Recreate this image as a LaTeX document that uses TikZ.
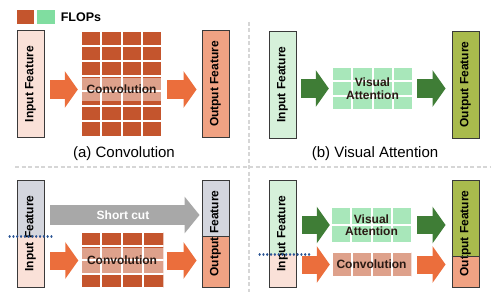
\documentclass[tikz,border=0pt]{standalone}
\usepackage{fontspec}
\setmainfont{Liberation Sans}
\usepackage{graphicx}
\usetikzlibrary{arrows.meta, positioning, calc}

\definecolor{convbrown}{HTML}{C4552D}
\definecolor{convorange}{HTML}{EB6E3C}
\definecolor{inpink}{HTML}{FAE1D8}
\definecolor{outsalmon}{HTML}{F0A283}
\definecolor{legmint}{HTML}{80DDA0}
\definecolor{attcell}{HTML}{A8E7BA}
\definecolor{attgreen}{HTML}{3F7D36}
\definecolor{ingreen}{HTML}{D6F1DA}
\definecolor{outolive}{HTML}{A9BB4D}
\definecolor{cutgray}{HTML}{A8A8A8}
\definecolor{topgray}{HTML}{D4D6DE}
\definecolor{dotblue}{HTML}{2A5494}
\definecolor{edgegray}{HTML}{3A3A3A}
\definecolor{sepgray}{HTML}{D6D6D6}
\definecolor{textdark}{HTML}{2A1A14}

\begin{document}
\begin{tikzpicture}[
    x=1pt, y=-1pt,
    feat/.style={
        draw=edgegray,
        line width=0.9pt,
        rectangle,
        inner sep=0pt,
        minimum width=27pt,
        minimum height=107pt,
        font=\fontsize{12}{13}\selectfont\bfseries
    },
    lower/.style 2 args={
        path picture={
            \fill[#1] (path picture bounding box.south west)
                rectangle ([yshift=#2]path picture bounding box.south east);
        }
    },
    cells/.style 2 args={
        path picture={
            \foreach \k in {0,...,#1}
                \draw[white, line width=2pt]
                    ($(path picture bounding box.north west)!{\k/#1}!(path picture bounding box.north east)$) --
                    ($(path picture bounding box.south west)!{\k/#1}!(path picture bounding box.south east)$);
            \foreach \k in {0,...,#2}
                \draw[white, line width=2pt]
                    ($(path picture bounding box.north west)!{\k/#2}!(path picture bounding box.south west)$) --
                    ($(path picture bounding box.north east)!{\k/#2}!(path picture bounding box.south east)$);
        }
    },
    convgrid/.style={
        rectangle,
        inner sep=0pt,
        fill=convbrown
    },
    convband/.style={
        rectangle,
        inner sep=0pt,
        fill=white,
        fill opacity=0.45,
        text opacity=1,
        text=textdark,
        font=\fontsize{12}{13}\selectfont\bfseries
    },
    attgrid/.style={
        rectangle,
        inner sep=0pt,
        fill=attcell
    },
    attlabel/.style={
        align=center,
        inner sep=0pt,
        text=textdark,
        font=\fontsize{12}{12.5}\selectfont\bfseries
    },
    fatarrow/.style={
        line width=18pt,
        -{Triangle[length=13pt, width=36pt]}
    },
    captext/.style={font=\fontsize{15}{16}\selectfont},
    sepline/.style={draw=sepgray, line width=1.2pt, dash pattern=on 4pt off 2.5pt},
    splitline/.style={draw=dotblue, line width=2.2pt, line cap=round, dash pattern=on 0.2pt off 3.6pt}
]
\useasboundingbox (0,0) rectangle (494,294);

% separators
\draw[sepline] (15,167) -- (490,167);
\draw[sepline] (249,22) -- (249,292);

% legend
\node[fill=convbrown, inner sep=0pt, minimum width=17pt, minimum height=14pt] (lgConv) at (25.5,17) {};
\node[fill=legmint, inner sep=0pt, minimum width=18pt, minimum height=14pt, right=3pt of lgConv] (lgAtt) {};
\node[inner sep=0pt, right=5pt of lgAtt, font=\fontsize{12.5}{13}\selectfont\bfseries] (lgText) {FLOPs};

% (a) convolution
\node[feat, fill=inpink] (inA) at (30.5,84) {\rotatebox{90}{Input Feature}};
\node[convgrid, cells={4}{7}, minimum width=81pt, minimum height=105pt] (gridA) at (121.5,84) {};
\node[convband, minimum width=81pt, minimum height=23pt] (convA) at (gridA.center |- 0,89.5) {Convolution};
\node[feat, fill=outsalmon] (outA) at (215.5,84) {\rotatebox{90}{Output Feature}};
\draw[fatarrow, convorange, shorten <=6pt, shorten >=3pt] (inA.east |- convA) -- (convA.west);
\draw[fatarrow, convorange, shorten <=5pt, shorten >=5pt] (convA.east) -- (outA.west |- convA);
\node[captext] (capA) at (124,154) {(a) Convolution};

% (b) visual attention
\node[feat, fill=ingreen] (inB) at (282.5,84.5) {\rotatebox{90}{Input Feature}};
\node[attgrid, cells={4}{3}, minimum width=81pt, minimum height=43pt] (attB) at (372.5,88.5) {};
\node[attlabel] (attBtext) at (attB) {Visual\\Attention};
\node[feat, fill=outolive] (outB) at (465.5,84.5) {\rotatebox{90}{Output Feature}};
\draw[fatarrow, attgreen, shorten <=5pt, shorten >=3pt] (inB.east |- attB) -- (attB.west);
\draw[fatarrow, attgreen, shorten <=4pt, shorten >=6pt] (attB.east) -- (outB.west |- attB);
\node[captext] (capB) at (375,154) {(b) Visual Attention};

% convolution with short cut
\node[feat, fill=topgray, lower={inpink}{51pt}] (inC) at (30.5,233.5) {\rotatebox{90}{Input Feature}};
\node[feat, fill=topgray, lower={outsalmon}{51pt}] (outC) at (215.5,233.5) {\rotatebox{90}{Output Feature}};
\draw[edgegray, line width=0.9pt] ([yshift=51pt]outC.south west) -- ([yshift=51pt]outC.south east);
\node[convgrid, cells={4}{4}, minimum width=83pt, minimum height=56pt] (gridC) at (122,260) {};
\node[convband, minimum width=83pt, minimum height=26pt] (convC) at (gridC.center |- 0,260.5) {Convolution};
\coordinate (scut) at (0,215);
\draw[cutgray, line width=20pt, -{Triangle[length=15pt, width=36pt]}, shorten <=6pt, shorten >=2pt]
    (inC.east |- scut) -- node[text=white, font=\fontsize{12}{13}\selectfont\bfseries] {Short cut} (outC.west |- scut);
\draw[fatarrow, convorange, shorten <=6pt, shorten >=2pt] (inC.east |- convC) -- (convC.west);
\draw[fatarrow, convorange, shorten <=3pt, shorten >=5pt] (convC.east) -- (outC.west |- convC);
\draw[splitline] ([xshift=-7pt, yshift=51pt]inC.south west) -- ([xshift=9pt, yshift=51pt]inC.south east);

% attention with convolution
\node[feat, fill=ingreen, lower={inpink}{33pt}] (inD) at (282.5,233.5) {\rotatebox{90}{Input Feature}};
\node[feat, fill=outolive, lower={outsalmon}{31pt}] (outD) at (465.5,233.5) {\rotatebox{90}{Output Feature}};
\draw[edgegray, line width=0.9pt] ([yshift=31pt]outD.south west) -- ([yshift=31pt]outD.south east);
\node[attgrid, cells={4}{2}, minimum width=81pt, minimum height=36pt] (attD) at (371.5,225) {};
\node[attlabel] (attDtext) at (attD) {Visual\\Attention};
\node[convgrid, cells={4}{1}, minimum width=80pt, minimum height=25pt] (gridD) at (371.5,264.5) {};
\node[convband, minimum width=80pt, minimum height=25pt] (convD) at (gridD) {Convolution};
\draw[fatarrow, attgreen, shorten <=6pt, shorten >=1pt] (inD.east |- attD) -- (attD.west);
\draw[fatarrow, attgreen, shorten <=5pt, shorten >=6pt] (attD.east) -- (outD.west |- attD);
\draw[fatarrow, convorange, shorten <=6pt, shorten >=1.5pt] (inD.east |- convD) -- (convD.west);
\draw[fatarrow, convorange, shorten <=5.5pt, shorten >=6pt] (convD.east) -- (outD.west |- convD);
\draw[splitline] ([xshift=-9pt, yshift=33pt]inD.south west) -- ([xshift=14pt, yshift=33pt]inD.south east);

\end{tikzpicture}
\end{document}
